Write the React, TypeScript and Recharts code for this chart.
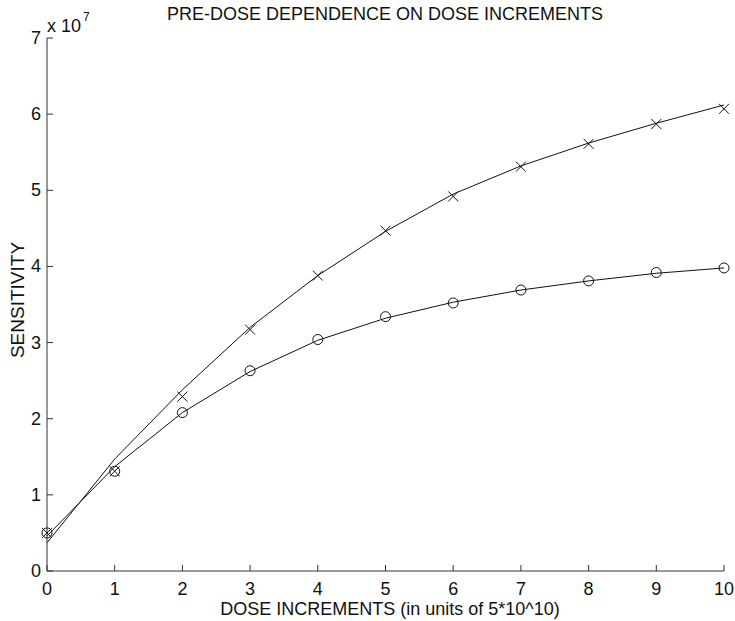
import { ComposedChart, Line, XAxis, YAxis } from 'recharts';

const doseSteps = [0, 1, 2, 3, 4, 5, 6, 7, 8, 9, 10];
const crossMarks = [0.5, 1.31, 2.29, 3.17, 3.88, 4.47, 4.92, 5.31, 5.61, 5.87, 6.07];
const circleMarks = [0.5, 1.31, 2.08, 2.63, 3.04, 3.34, 3.52, 3.69, 3.81, 3.92, 3.98];
const crossFit = [0.37, 1.47, 2.38, 3.2, 3.88, 4.46, 4.95, 5.32, 5.62, 5.88, 6.12];
const circleFit = [0.46, 1.37, 2.08, 2.62, 3.03, 3.32, 3.53, 3.69, 3.81, 3.91, 3.98];
const sensitivityTicks = [0, 1, 2, 3, 4, 5, 6, 7];

const SCALE = 1e7;

const data = doseSteps.map((dose, i) => ({
  dose,
  crossMark: crossMarks[i] * SCALE,
  circleMark: circleMarks[i] * SCALE,
  crossFit: crossFit[i] * SCALE,
  circleFit: circleFit[i] * SCALE,
}));

const font = '"Liberation Sans", Arial, sans-serif';
const ink = '#111';
const axisInk = '#333';

const CrossDot = (props: any) => {
  const { cx, cy, index } = props;
  if (cx == null || cy == null) return <g key={`cx-${index}`} />;
  const s = 5;
  return (
    <path
      key={`cx-${index}`}
      d={`M${cx - s},${cy - s}L${cx + s},${cy + s}M${cx - s},${cy + s}L${cx + s},${cy - s}`}
      stroke={ink}
      strokeWidth={1}
      fill="none"
    />
  );
};

const CircleDot = (props: any) => {
  const { cx, cy, index } = props;
  if (cx == null || cy == null) return <g key={`co-${index}`} />;
  return <circle key={`co-${index}`} cx={cx} cy={cy} r={5} stroke={ink} strokeWidth={1} fill="none" />;
};

// matlab style: ticks point into the plot, labels outside
const BottomTick = (props: any) => {
  const { x, y, payload } = props;
  return (
    <g>
      <line x1={x} x2={x} y1={y} y2={y - 6} stroke={axisInk} strokeWidth={1} />
      <text x={x} y={y + 24} textAnchor="middle" fill={ink} fontSize={18} fontFamily={font}>
        {payload.value}
      </text>
    </g>
  );
};

const LeftTick = (props: any) => {
  const { x, y, payload } = props;
  return (
    <g>
      <line x1={x} x2={x + 6} y1={y} y2={y} stroke={axisInk} strokeWidth={1} />
      <text x={x - 6} y={y + 6} textAnchor="end" fill={ink} fontSize={18} fontFamily={font}>
        {Math.round(payload.value / SCALE)}
      </text>
    </g>
  );
};

export default function App() {
  return (
    <div style={{ position: 'absolute', left: 0, top: 0, width: 735, height: 621, background: '#fff', fontFamily: font }}>
      <ComposedChart width={735} height={621} data={data} margin={{ top: 38, right: 11, left: 0, bottom: 0 }}>
        <XAxis
          dataKey="dose"
          type="number"
          domain={[0, 10]}
          ticks={doseSteps}
          height={50}
          tickSize={0}
          tickMargin={0}
          axisLine={{ stroke: axisInk }}
          tickLine={false}
          tick={BottomTick}
        />
        <YAxis
          type="number"
          domain={[0, 7 * SCALE]}
          ticks={sensitivityTicks.map((t) => t * SCALE)}
          width={47}
          tickSize={0}
          tickMargin={0}
          axisLine={{ stroke: axisInk }}
          tickLine={false}
          tick={LeftTick}
        />
        <Line dataKey="crossFit" type="linear" stroke={ink} strokeWidth={1} dot={false} activeDot={false} isAnimationActive={false} />
        <Line dataKey="circleFit" type="linear" stroke={ink} strokeWidth={1} dot={false} activeDot={false} isAnimationActive={false} />
        <Line dataKey="crossMark" stroke="none" dot={CrossDot} activeDot={false} isAnimationActive={false} />
        <Line dataKey="circleMark" stroke="none" dot={CircleDot} activeDot={false} isAnimationActive={false} />
      </ComposedChart>

      <div style={{ position: 'absolute', top: 4, left: 0, width: 770, textAlign: 'center', fontSize: 18, color: ink, whiteSpace: 'nowrap' }}>
        PRE-DOSE DEPENDENCE ON DOSE INCREMENTS
      </div>
      <div style={{ position: 'absolute', top: 16, left: 47, fontSize: 18, color: ink, whiteSpace: 'nowrap' }}>
        x 10<span style={{ fontSize: 12, position: 'relative', top: -11, marginLeft: 2 }}>7</span>
      </div>
      <div
        style={{
          position: 'absolute',
          left: 18,
          top: 300,
          transform: 'translate(-50%, -50%) rotate(-90deg)',
          fontSize: 19,
          color: ink,
          whiteSpace: 'nowrap',
        }}
      >
        SENSITIVITY
      </div>
      <div style={{ position: 'absolute', top: 599, left: 0, width: 780, textAlign: 'center', fontSize: 18, color: ink, whiteSpace: 'nowrap' }}>
        DOSE INCREMENTS (in units of 5*10^10)
      </div>
    </div>
  );
}
